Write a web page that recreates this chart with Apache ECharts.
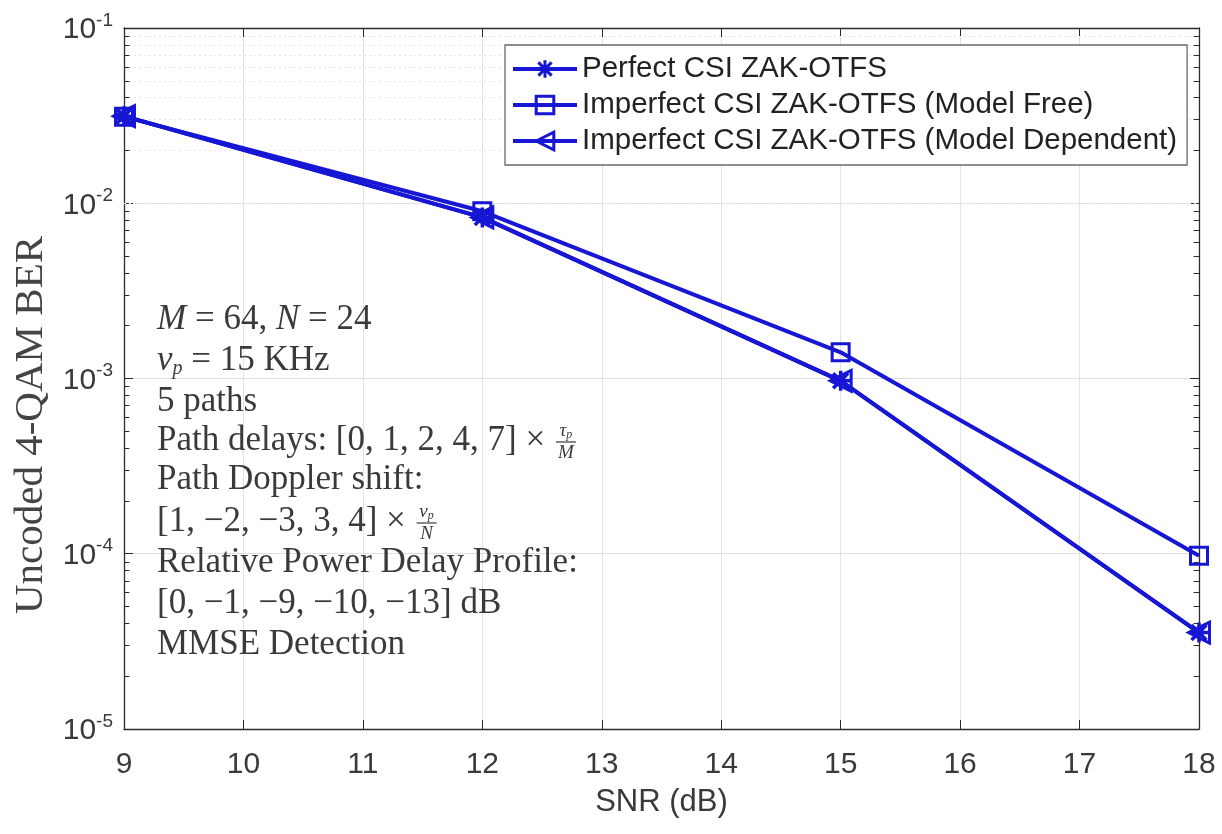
<!DOCTYPE html>
<html><head><meta charset="utf-8">
<script src="https://cdn.jsdelivr.net/npm/echarts@6/dist/echarts.min.js"></script>
<style>html,body{margin:0;padding:0;background:#fff}#c{width:1222px;height:834px}</style>
</head><body><div id="c"></div>
<script>
// ---- data ----
const snr = [9, 12, 15, 18];
const perfectCSI = [0.0314, 0.0083, 0.00097, 0.0000355];
const modelFree = [0.0312, 0.0090, 0.00141, 0.0000975];
const modelDependent = [0.0314, 0.0083, 0.00097, 0.0000355];
const seriesNames = [
  'Perfect CSI ZAK-OTFS',
  'Imperfect CSI ZAK-OTFS (Model Free)',
  'Imperfect CSI ZAK-OTFS (Model Dependent)'
];
const xMin = 9, xMax = 18, xStep = 1;
const yMin = 1e-5, yMax = 1e-1;
const minorMultipliers = [2, 3, 4, 5, 6, 7, 8, 9];
const decadeStarts = [1e-5, 1e-4, 1e-3, 1e-2];

// ---- styling ----
const BLUE = '#1616d4';
const AX = '#2b2b2b';
const TXT = '#3a3a3a';
const SANS = "'Liberation Sans', Arial, Helvetica, sans-serif";
const SERIF = "'Liberation Serif', 'Times New Roman', serif";

const minorVals = [];
decadeStarts.forEach(d => minorMultipliers.forEach(m => minorVals.push(+(d * m).toPrecision(3))));

const chart = echarts.init(document.getElementById('c'), null, {renderer: 'canvas'});

const asterisk = 'path://M0,-10L0,10M-10,0L10,0M-7.5,-7.5L7.5,7.5M-7.5,7.5L7.5,-7.5';
const triLeft = 'path://M0,5L9,0L9,10Z';

function mkSeries(name, ys, symbol, size, bw) {
  return {
    name, type: 'line', data: snr.map((x, i) => [x, ys[i]]),
    symbol, symbolSize: size, showSymbol: true,
    lineStyle: {color: BLUE, width: 4},
    itemStyle: {color: 'rgba(255,255,255,0)', borderColor: BLUE, borderWidth: bw},
    emphasis: {disabled: true}, z: 5, animation: false
  };
}

// minor grid + minor ticks through the axes' own scales
const minorGrid = minorVals.map(v => ({yAxis: v}));
const tickLen = 0.045;
const minorTicks = [];
minorVals.forEach(v => {
  minorTicks.push([{coord: [xMin, v]}, {coord: [xMin + tickLen, v]}]);
  minorTicks.push([{coord: [xMax - tickLen, v]}, {coord: [xMax, v]}]);
});

// ---- annotation text (measured to place fractions) ----
const annFont = 35;
const ctx = document.createElement('canvas').getContext('2d');
ctx.font = annFont + 'px ' + SERIF;
const annX = 157;
const lineY = [320, 361, 402, 441, 480, 522, 563, 604, 645];
const rich = {
  r: {fontFamily: SERIF, fontSize: annFont, fill: TXT, lineHeight: 36},
  i: {fontFamily: SERIF, fontSize: annFont, fontStyle: 'italic', fill: TXT, lineHeight: 36},
  sub: {fontFamily: SERIF, fontSize: 20, fontStyle: 'italic', fill: TXT, lineHeight: 36, verticalAlign: 'bottom'}
};
const annLines = [
  '{i|M} {r|= 64,} {i|N} {r|= 24}',
  '{i|ν}{sub|p}{r| = 15 KHz}',
  '{r|5 paths}',
  '{r|Path delays: [0, 1, 2, 4, 7] × }',
  '{r|Path Doppler shift:}',
  '{r|[1, −2, −3, 3, 4] × }',
  '{r|Relative Power Delay Profile:}',
  '{r|[0, −1, −9, −10, −13] dB}',
  '{r|MMSE Detection}'
];
const graphics = annLines.map((t, k) => ({
  type: 'text', left: annX, top: lineY[k] - 18, z: 20, silent: true,
  style: {text: t, rich, fill: TXT, font: annFont + 'px ' + SERIF, verticalAlign: 'top'}
}));
function fraction(prefix, lineIdx, numMain, numSub, den) {
  const w = ctx.measureText(prefix).width;
  const cx = annX + w + 12;
  const cy = lineY[lineIdx];
  const fr = {
    n: {fontFamily: SERIF, fontSize: 19, fontStyle: 'italic', fill: TXT},
    s: {fontFamily: SERIF, fontSize: 12, fontStyle: 'italic', fill: TXT, verticalAlign: 'bottom'}
  };
  return [
    {type: 'text', x: cx, y: cy - 10, z: 20, silent: true,
     style: {text: '{n|' + numMain + '}{s|' + numSub + '}', rich: fr, align: 'center', verticalAlign: 'middle'}},
    {type: 'line', z: 20, silent: true, shape: {x1: cx - 10, y1: cy + 1, x2: cx + 10, y2: cy + 1},
     style: {stroke: TXT, lineWidth: 1.2}},
    {type: 'text', x: cx, y: cy + 12, z: 20, silent: true,
     style: {text: '{n|' + den + '}', rich: fr, align: 'center', verticalAlign: 'middle'}}
  ];
}
graphics.push(...fraction('Path delays: [0, 1, 2, 4, 7] × ', 3, 'τ', 'p', 'M'));
graphics.push(...fraction('[1, −2, −3, 3, 4] × ', 5, 'ν', 'p', 'N'));
graphics.push({
  type: 'text', x: 31, y: 425, rotation: Math.PI / 2, z: 20, silent: true,
  style: {text: 'Uncoded 4-QAM BER', font: '41px ' + SERIF, fill: '#444', align: 'center', verticalAlign: 'middle'}
});

const option = {
  animation: false,
  backgroundColor: '#fff',
  grid: {left: 124, right: 23, top: 28, bottom: 105, show: false},
  legend: {
    orient: 'vertical', left: 505, top: 45,
    data: seriesNames,
    backgroundColor: '#fff', borderColor: '#6a6a6a', borderWidth: 1.3,
    padding: [9, 10, 9, 6], itemWidth: 64, itemHeight: 22, itemGap: 6,
    lineStyle: {width: 4, color: BLUE},
    itemStyle: {borderWidth: 3, borderColor: BLUE},
    textStyle: {fontFamily: SANS, fontSize: 29.5, color: '#222', lineHeight: 30},
    selectedMode: false, z: 30
  },
  xAxis: [{
    type: 'value', min: xMin, max: xMax, interval: xStep,
    name: 'SNR (dB)', nameLocation: 'middle', nameGap: 58,
    nameTextStyle: {fontFamily: SANS, fontSize: 31, color: TXT},
    axisLine: {show: true, lineStyle: {color: AX, width: 1.3}},
    axisTick: {show: true, inside: true, length: 9, lineStyle: {color: AX}},
    axisLabel: {fontFamily: SANS, fontSize: 30, color: TXT, margin: 21},
    splitLine: {show: true, lineStyle: {color: '#e3e3e3', width: 1}}
  }, {
    type: 'value', min: xMin, max: xMax, interval: xStep, position: 'top',
    axisLine: {show: true, onZero: false, lineStyle: {color: AX, width: 1.3}},
    axisTick: {show: true, inside: true, length: 9, lineStyle: {color: AX}},
    axisLabel: {show: false}, splitLine: {show: false}
  }],
  yAxis: [{
    type: 'log', logBase: 10, min: yMin, max: yMax,
    axisLine: {show: true, onZero: false, lineStyle: {color: AX, width: 1.3}},
    axisTick: {show: true, inside: true, length: 9, lineStyle: {color: AX}},
    axisLabel: {
      margin: 11,
      formatter: v => '{b|10}{s|' + Math.round(Math.log10(v)) + '}',
      rich: {
        b: {fontFamily: SANS, fontSize: 30, color: TXT, lineHeight: 34, verticalAlign: 'bottom'},
        s: {fontFamily: SANS, fontSize: 19, color: TXT, lineHeight: 34, verticalAlign: 'top'}
      }
    },
    splitLine: {show: true, lineStyle: {color: '#dedede', width: 1}}
  }, {
    type: 'log', logBase: 10, min: yMin, max: yMax, position: 'right',
    axisLine: {show: true, onZero: false, lineStyle: {color: AX, width: 1.3}},
    axisTick: {show: true, inside: true, length: 9, lineStyle: {color: AX}},
    axisLabel: {show: false}, splitLine: {show: false}
  }],
  series: [
    {
      name: '_minor', type: 'line', data: [], silent: true, z: 1,
      markLine: {
        silent: true, symbol: 'none', animation: false, label: {show: false},
        lineStyle: {color: '#e6e6e6', type: [2, 3], width: 1},
        emphasis: {disabled: true},
        data: minorGrid
      }
    },
    {
      name: '_minorTicks', type: 'line', data: [], silent: true, z: 2,
      markLine: {
        silent: true, symbol: 'none', animation: false, label: {show: false},
        lineStyle: {color: AX, type: 'solid', width: 1},
        emphasis: {disabled: true},
        data: minorTicks
      }
    },
    mkSeries(seriesNames[0], perfectCSI, asterisk, 20, 3.5),
    mkSeries(seriesNames[1], modelFree, 'rect', 17, 3),
    mkSeries(seriesNames[2], modelDependent, triLeft, 21, 3)
  ],
  graphic: graphics
};
chart.setOption(option);
</script>
</body></html>
